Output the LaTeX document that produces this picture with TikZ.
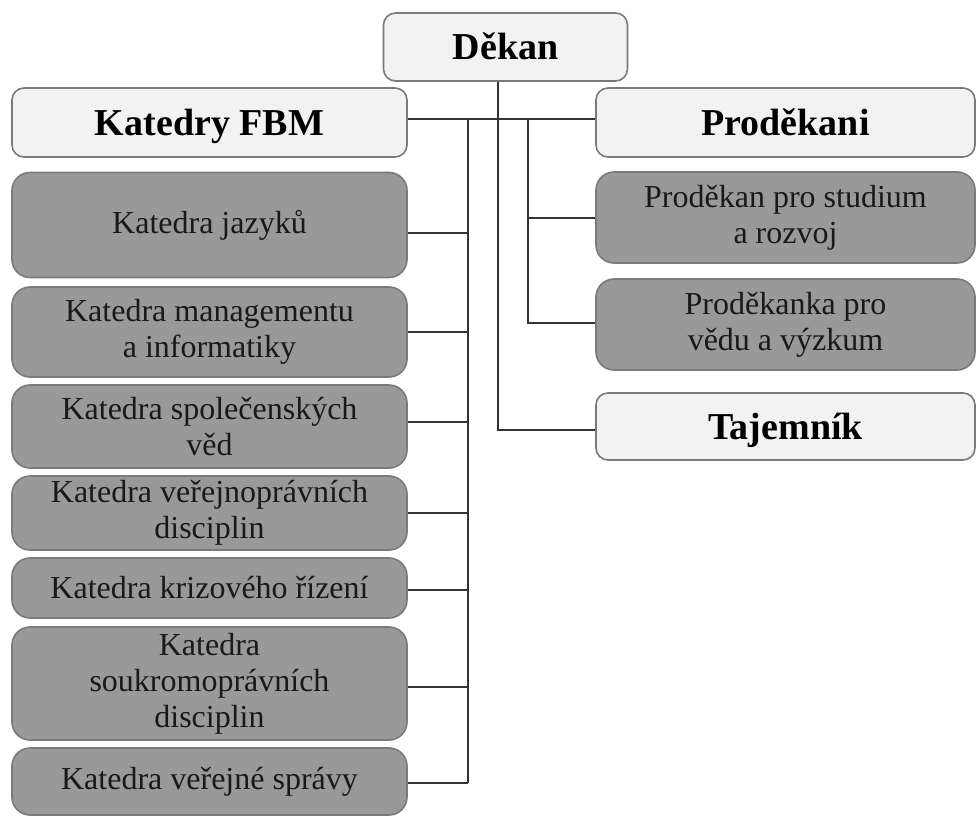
\documentclass[tikz,border=0pt]{standalone}
\usepackage{fontspec}
\setmainfont{Liberation Serif}
\definecolor{lightfill}{HTML}{F2F2F2}
\definecolor{darkfill}{HTML}{999999}
\definecolor{edgegray}{HTML}{7A7A7A}
\definecolor{linegray}{HTML}{333333}
\begin{document}
\begin{tikzpicture}[x=1pt,y=-1pt,
  box/.style={draw=edgegray, line width=1.6pt, rounded corners=12pt, align=center, inner sep=0pt, text=black},
  headbox/.style={box, fill=lightfill, font=\fontsize{38}{42}\selectfont\bfseries, text height=25pt, text depth=0pt},
  deptbox/.style={box, fill=darkfill, rounded corners=18pt, font=\fontsize{32}{36}\selectfont, text=black!90},
  conn/.style={draw=linegray, line width=1.5pt}
]
\useasboundingbox (0,0) rectangle (980,819);
% head boxes
\node[headbox, minimum width=244pt, minimum height=68pt] (dekan) at (505.5,47) {Děkan};
\node[headbox, minimum width=395pt, minimum height=69pt] (katedry) at (209.5,122.5) {Katedry FBM};
\node[headbox, minimum width=379pt, minimum height=69pt] (prodekani) at (785.5,122.5) {Proděkani};
\node[headbox, minimum width=379pt, minimum height=67pt] (tajemnik) at (785.5,426.5) {Tajemník};
% right dept boxes
\node[deptbox, minimum width=379pt, minimum height=91pt] (pstud) at (785.5,217.5) {Proděkan pro studium\\a rozvoj};
\node[deptbox, minimum width=379pt, minimum height=91pt] (pveda) at (785.5,324.5) {Proděkanka pro\\vědu a výzkum};
% left dept boxes
\node[deptbox, minimum width=395pt, minimum height=105pt] (k1) at (209.5,225) {Katedra jazyků};
\node[deptbox, minimum width=395pt, minimum height=90pt] (k2) at (209.5,332) {Katedra managementu\\a informatiky};
\node[deptbox, minimum width=395pt, minimum height=83pt] (k3) at (209.5,426.5) {Katedra společenských\\věd};
\node[deptbox, minimum width=395pt, minimum height=74pt] (k4) at (209.5,513) {Katedra veřejnoprávních\\disciplin};
\node[deptbox, minimum width=395pt, minimum height=60pt] (k5) at (209.5,588) {Katedra krizového řízení};
\node[deptbox, minimum width=395pt, minimum height=113pt] (k6) at (209.5,683.5) {Katedra\\soukromoprávních\\disciplin};
\node[deptbox, minimum width=395pt, minimum height=67pt] (k7) at (209.5,781.5) {Katedra veřejné správy};
% bus coordinates
\coordinate (hbus) at (0,119);
\coordinate (lbus) at (468,0);
\coordinate (mbus) at (498,0);
\coordinate (rbus) at (528,0);
\coordinate (c1) at (0,233);
\coordinate (c2) at (0,332);
\coordinate (c3) at (0,422);
\coordinate (c4) at (0,513);
\coordinate (c5) at (0,590);
\coordinate (c6) at (0,687);
\coordinate (c7) at (0,783);
\coordinate (r1) at (0,218);
\coordinate (r2) at (0,323);
\coordinate (t1) at (0,430);
% connectors
\draw[conn] (katedry.east |- hbus) -- (prodekani.west |- hbus);
\draw[conn] (dekan.south -| mbus) |- (tajemnik.west |- t1);
\draw[conn] (lbus |- hbus) -- (lbus |- c7);
\foreach \k/\c in {k1/c1,k2/c2,k3/c3,k4/c4,k5/c5,k6/c6,k7/c7}
  \draw[conn] (\k.east |- \c) -- (lbus |- \c);
\draw[conn] (rbus |- hbus) |- (pveda.west |- r2);
\draw[conn] (rbus |- r1) -- (pstud.west |- r1);
\end{tikzpicture}
\end{document}
